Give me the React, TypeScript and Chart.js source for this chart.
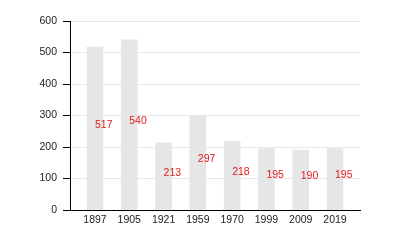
import React, { useEffect, useRef } from "react";
import { Chart, registerables } from "chart.js";

Chart.register(...registerables);

const years = ["1897", "1905", "1921", "1959", "1970", "1999", "2009", "2019"];
const population = [517, 540, 213, 297, 218, 195, 190, 195];
const yTicks = [0, 100, 200, 300, 400, 500, 600];

const FONT = "'Liberation Sans', Arial, sans-serif";

const valueLabels = {
  id: "valueLabels",
  afterDatasetsDraw(chart: any) {
    const ctx = chart.ctx;
    const meta = chart.getDatasetMeta(0);
    ctx.save();
    ctx.fillStyle = "#e41a1c";
    ctx.font = `10.5px ${FONT}`;
    ctx.textAlign = "left";
    ctx.textBaseline = "middle";
    meta.data.forEach((el: any, i: number) => {
      const p = el.getProps(["x", "y", "base"], true);
      ctx.fillText(String(population[i]), p.x, (p.y + p.base) / 2 - 3.5);
    });
    ctx.restore();
  },
};

export default function App() {
  const ref = useRef<HTMLCanvasElement | null>(null);
  useEffect(() => {
    if (!ref.current) return;
    const chart = new Chart(ref.current, {
      type: "bar",
      data: {
        datasets: [
          {
            data: population.map((v, i) => ({ x: i, y: v })),
            backgroundColor: "#e6e6e6",
            borderWidth: 0,
            barThickness: 16,
          },
        ],
      },
      options: {
        animation: false,
        responsive: true,
        maintainAspectRatio: false,
        events: [],
        layout: { padding: { top: 21, right: 40, left: 0, bottom: 0 } },
        plugins: { legend: { display: false }, tooltip: { enabled: false } },
        scales: {
          x: {
            type: "linear",
            offset: false,
            min: -0.729,
            max: 7.729,
            afterFit: (s: any) => {
              s.height = 40;
            },
            afterBuildTicks: (s: any) => {
              s.ticks = years.map((_, i) => ({ value: i }));
            },
            grid: { drawOnChartArea: false, drawTicks: false },
            border: { display: true, color: "#000", width: 1 },
            ticks: {
              padding: 4,
              color: "#222",
              font: { family: FONT, size: 10.5 },
              callback: (v: any) => years[v] ?? "",
              maxRotation: 0,
              autoSkip: false,
            },
          },
          y: {
            min: 0,
            max: 600,
            afterFit: (s: any) => {
              s.width = 70;
            },
            afterBuildTicks: (s: any) => {
              s.ticks = yTicks.map((v) => ({ value: v }));
            },
            grid: { color: "#e8e8e8", tickColor: "#000", tickLength: 7 },
            border: { display: true, color: "#000", width: 1 },
            ticks: {
              padding: 6,
              color: "#222",
              font: { family: FONT, size: 10.5 },
            },
          },
        },
      },
      plugins: [valueLabels],
    });
    return () => chart.destroy();
  }, []);
  return (
    <div style={{ position: "fixed", left: 0, top: 0, width: 400, height: 250, background: "#fff" }}>
      <canvas ref={ref} />
    </div>
  );
}
